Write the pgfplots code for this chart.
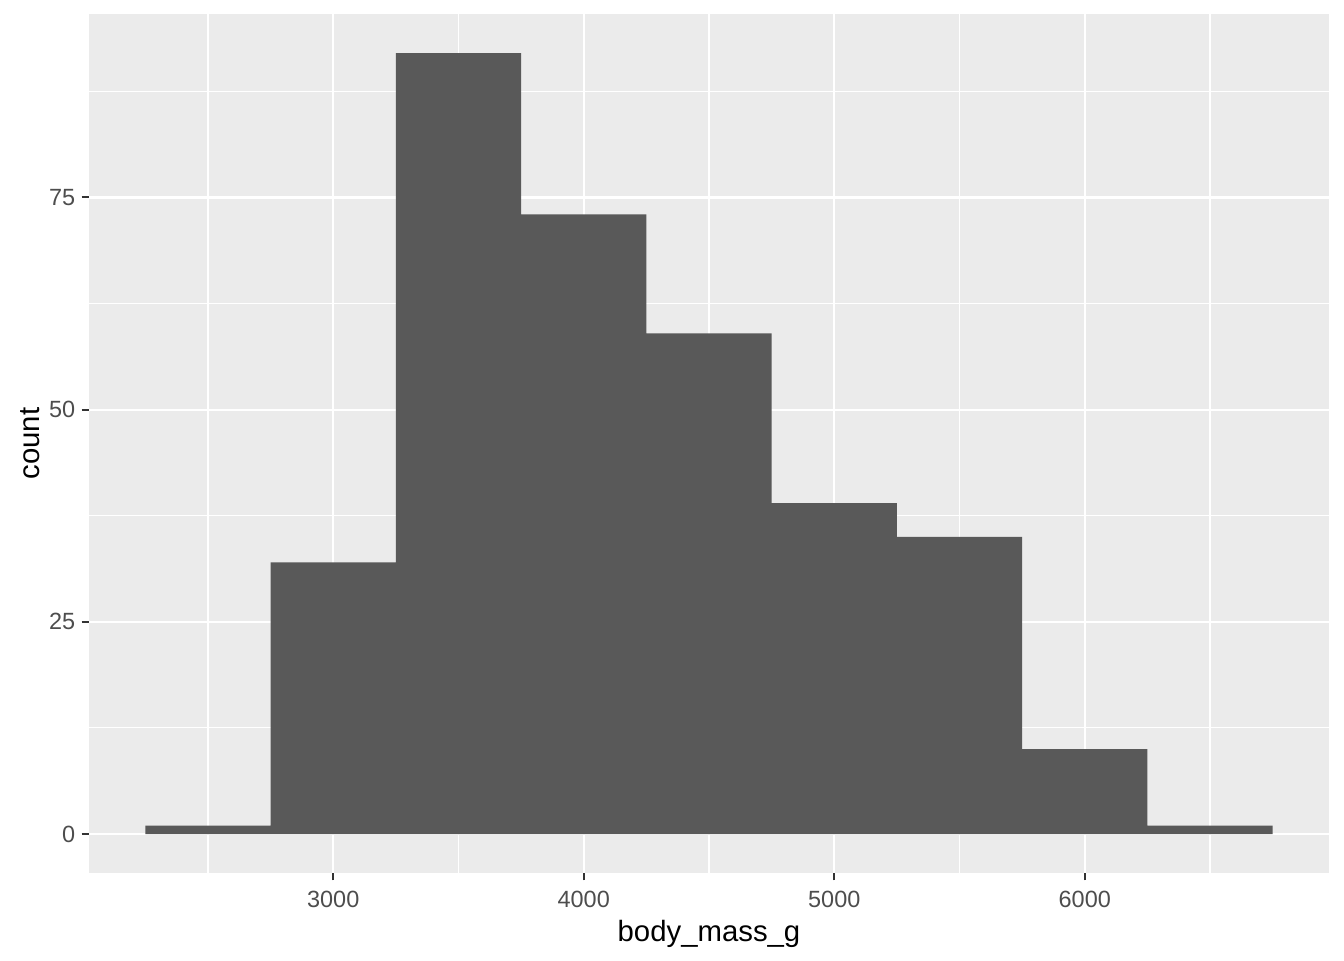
\documentclass[border=0pt]{standalone}
\usepackage{fontspec}
\setmainfont{Liberation Sans}
\usepackage{pgfplots}
\pgfplotsset{compat=1.18}
\definecolor{ggbg}{HTML}{EBEBEB}
\definecolor{ggbar}{HTML}{595959}
\definecolor{ggtxt}{HTML}{4D4D4D}
\definecolor{ggtick}{HTML}{333333}
\begin{document}
\begin{tikzpicture}
\path[use as bounding box] (0,0) rectangle (504pt,360pt);
\begin{axis}[
  at={(33.375pt,32.6pt)}, anchor=south west,
  scale only axis, width=465pt, height=322.1pt,
  xmin=2025, xmax=6975, ymin=-4.6, ymax=96.6,
  axis background/.style={fill=ggbg},
  axis line style={draw=none},
  xtick={3000,4000,5000,6000},
  ytick={0,25,50,75},
  minor xtick={2500,3500,4500,5500,6500},
  minor ytick={12.5,37.5,62.5,87.5},
  grid=both,
  major grid style={white, line width=0.8pt},
  minor grid style={white, line width=0.4pt},
  tick pos=left,
  tick align=outside,
  major tick length=2.75pt,
  minor tick length=0pt,
  tick style={ggtick, line width=0.75pt},
  /pgf/number format/assume math mode=true,
  /pgf/number format/1000 sep={},
  ticklabel style={font=\fontsize{8.8}{10}\selectfont, text=ggtxt},
  xticklabel style={inner sep=0pt, yshift=-3.7pt},
  yticklabel style={inner sep=0pt, xshift=-2.2pt},
  xlabel={body\_mass\_g},
  ylabel={count},
  label style={font=\fontsize{11}{13}\selectfont, text=black},
  xlabel style={yshift=-1.1pt},
]
\addplot[ybar interval, fill=ggbar, draw=none] coordinates {
  (2250,1) (2750,32) (3250,92) (3750,73) (4250,59) (4750,39) (5250,35) (5750,10) (6250,1) (6750,1)
};
\end{axis}
\end{tikzpicture}
\end{document}
